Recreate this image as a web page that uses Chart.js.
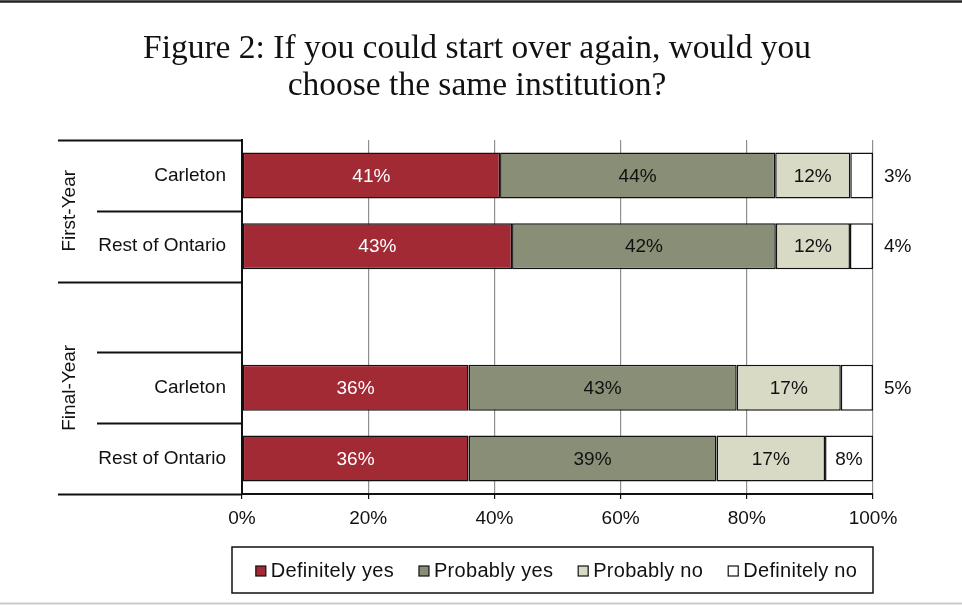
<!DOCTYPE html>
<html>
<head>
<meta charset="utf-8">
<script src="https://cdn.jsdelivr.net/npm/chart.js@4.4.0/dist/chart.umd.min.js"></script>
<style>
    body { margin: 0; background: #fff; }
    canvas { display: block; }
</style>
</head>
<body>
<canvas id="instChart" width="962" height="605"></canvas>
<script>
// rows of the chart, the empty one is the gap between the two groups
const categories = ['Carleton', 'Rest of Ontario', '', 'Carleton', 'Rest of Ontario'];
const groupNames = ['First-Year', 'Final-Year'];
const groupStarts = [0, 2]; // first row index of each group
const xTicks = [0, 20, 40, 60, 80, 100];

// segment widths
const definitelyYes = [40.9, 42.8, null, 35.9, 35.9];
const probablyYes = [43.6, 41.8, null, 42.5, 39.3];
const probablyNo = [11.9, 11.75, null, 16.5, 17.2];
const definitelyNo = [3.6, 3.65, null, 5.1, 7.6];

// printed percentages
const definitelyYesText = ['41%', '43%', '', '36%', '36%'];
const probablyYesText = ['44%', '42%', '', '43%', '39%'];
const probablyNoText = ['12%', '12%', '', '17%', '17%'];
const definitelyNoText = ['3%', '4%', '', '5%', '8%'];

const seriesNames = ['Definitely yes', 'Probably yes', 'Probably no', 'Definitely no'];
const seriesColors = ['#A12A34', '#898E77', '#D9DAC6', '#FFFFFF'];
const seriesTextColors = ['#FFFFFF', '#111111', '#111111', '#111111'];
const seriesValues = [definitelyYes, probablyYes, probablyNo, definitelyNo];
const seriesTexts = [definitelyYesText, probablyYesText, probablyNoText, definitelyNoText];

const FONT = "'Liberation Sans', Arial, sans-serif";
Chart.defaults.font.family = FONT;
Chart.defaults.color = '#111';

// everything that isn't a bar: frame lines, title, group brackets, value labels, legend
const decorPlugin = {
    id: 'decor',
    afterDatasetsDraw(chart) {
        const ctx = chart.ctx;
        const area = chart.chartArea;
        ctx.save();
        ctx.font = '19px ' + FONT;
        ctx.textBaseline = 'middle';
        chart.data.datasets.forEach((ds, di) => {
            const meta = chart.getDatasetMeta(di);
            meta.data.forEach((bar, i) => {
                const txt = seriesTexts[di][i];
                if (!txt) return;
                const p = bar.getProps(['x', 'y', 'base'], true);
                const w = Math.abs(p.x - p.base);
                if (w < 38) {
                    // too narrow, goes outside on the right
                    ctx.fillStyle = '#111';
                    ctx.textAlign = 'left';
                    ctx.fillText(txt, area.right + 11, p.y + 1);
                } else {
                    ctx.fillStyle = seriesTextColors[di];
                    ctx.textAlign = 'center';
                    ctx.fillText(txt, (p.x + p.base) / 2, p.y + 1);
                }
            });
        });
        ctx.restore();
    },
    afterDraw(chart) {
        const ctx = chart.ctx;
        const area = chart.chartArea;
        const yScale = chart.scales.y;
        ctx.save();

        // frame lines top and bottom
        ctx.strokeStyle = '#222';
        ctx.lineWidth = 2.5;
        ctx.beginPath();
        ctx.moveTo(0, 1.5);
        ctx.lineTo(chart.width, 1.5);
        ctx.stroke();
        ctx.strokeStyle = '#cccccc';
        ctx.lineWidth = 2;
        ctx.beginPath();
        ctx.moveTo(0, 603.5);
        ctx.lineTo(chart.width, 603.5);
        ctx.stroke();

        // title
        ctx.fillStyle = '#111';
        ctx.font = "33.5px 'Liberation Serif', 'Times New Roman', serif";
        ctx.textAlign = 'center';
        ctx.textBaseline = 'alphabetic';
        ctx.fillText('Figure 2: If you could start over again, would you', 477, 58);
        ctx.fillText('choose the same institution?', 477, 95);

        // group brackets left of the y axis
        const slot = yScale.getPixelForValue(1) - yScale.getPixelForValue(0);
        const bounds = [];
        for (let i = 0; i <= categories.length; i++) {
            bounds.push(yScale.getPixelForValue(i) - slot / 2);
        }
        ctx.strokeStyle = '#111';
        ctx.lineWidth = 2;
        bounds.forEach((by, i) => {
            const isGroupEdge = groupStarts.includes(i) || i === categories.length;
            ctx.beginPath();
            ctx.moveTo(isGroupEdge ? 58 : 97, Math.round(by) + 0.5);
            ctx.lineTo(area.left, Math.round(by) + 0.5);
            ctx.stroke();
        });
        ctx.font = '19px ' + FONT;
        ctx.textAlign = 'center';
        ctx.textBaseline = 'middle';
        groupNames.forEach((name, g) => {
            const from = bounds[groupStarts[g]];
            const to = bounds[g + 1 < groupStarts.length ? groupStarts[g + 1] : categories.length];
            ctx.save();
            ctx.translate(70, (from + to) / 2);
            ctx.rotate(-Math.PI / 2);
            ctx.fillText(name, 0, 0);
            ctx.restore();
        });

        // legend in a box
        const boxL = area.left - 10, boxR = area.right, boxT = 547, boxB = 593;
        ctx.lineWidth = 1.5;
        ctx.strokeStyle = '#111';
        ctx.strokeRect(boxL, boxT, boxR - boxL, boxB - boxT);
        ctx.font = '20px ' + FONT;
        ctx.letterSpacing = '0.3px';
        ctx.textAlign = 'left';
        const sq = 10, gapIn = 5, gapOut = 25;
        const widths = seriesNames.map(n => sq + gapIn + ctx.measureText(n).width);
        const total = widths.reduce((a, b) => a + b, 0) + gapOut * (seriesNames.length - 1);
        let lx = (boxL + boxR) / 2 + 4 - total / 2;
        const ly = (boxT + boxB) / 2 + 1;
        seriesNames.forEach((n, i) => {
            ctx.fillStyle = seriesColors[i];
            ctx.fillRect(lx, ly - sq / 2, sq, sq);
            ctx.lineWidth = 1.2;
            ctx.strokeStyle = '#111';
            ctx.strokeRect(lx, ly - sq / 2, sq, sq);
            ctx.fillStyle = '#111';
            ctx.fillText(n, lx + sq + gapIn, ly);
            lx += widths[i] + gapOut;
        });
        ctx.restore();
    }
};

new Chart(document.getElementById('instChart'), {
    type: 'bar',
    data: {
        labels: categories,
        datasets: seriesNames.map((name, i) => ({
            label: name,
            data: seriesValues[i],
            backgroundColor: seriesColors[i],
            borderColor: '#111',
            borderWidth: 1.5,
            borderSkipped: false,
            categoryPercentage: 1,
            barPercentage: 0.65
        }))
    },
    options: {
        indexAxis: 'y',
        responsive: false,
        animation: false,
        devicePixelRatio: 1,
        layout: {
            padding: { left: 0, right: 89, top: 140, bottom: 71 }
        },
        plugins: {
            legend: { display: false },
            title: { display: false },
            tooltip: { enabled: false }
        },
        scales: {
            x: {
                stacked: true,
                min: 0,
                max: 100,
                afterFit: (axis) => { axis.height = 40; },
                afterBuildTicks: (axis) => { axis.ticks = xTicks.map(v => ({ value: v })); },
                ticks: {
                    callback: (v) => v + '%',
                    font: { size: 19 },
                    color: '#111',
                    padding: 8,
                    maxRotation: 0
                },
                grid: {
                    color: '#8f8f8f',
                    lineWidth: 1.2,
                    tickColor: '#111',
                    tickLength: 5
                },
                border: { color: '#111', width: 2 }
            },
            y: {
                stacked: true,
                afterFit: (axis) => { axis.width = 242; },
                ticks: {
                    font: { size: 19 },
                    color: '#111',
                    padding: 16
                },
                grid: { display: false, drawTicks: false },
                border: { color: '#111', width: 2 }
            }
        }
    },
    plugins: [decorPlugin]
});
</script>
</body>
</html>
